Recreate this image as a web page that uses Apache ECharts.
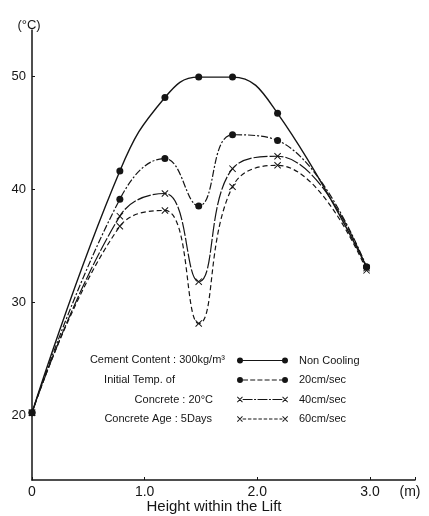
<!DOCTYPE html>
<html>
<head>
<meta charset="utf-8">
<script src="https://cdn.jsdelivr.net/npm/echarts@6/dist/echarts.min.js"></script>
<style>html,body{margin:0;padding:0;background:#fff}#c{width:429px;height:516px}</style>
</head>
<body>
<div id="c"></div>
<script>
// ---- data ----
var heights = [0, 0.78, 1.18, 1.48, 1.78, 2.18, 2.97];
var nonCooling = [20.2, 41.6, 48.1, 49.9, 49.9, 46.7, 33.1];
var cool20 = [20.2, 39.1, 42.7, 38.5, 44.8, 44.3, 33.1];
var cool40 = [20.2, 37.6, 39.6, 31.8, 41.8, 42.9, 33.0];
var cool60 = [20.2, 36.7, 38.1, 28.1, 40.2, 42.1, 32.8];
var seriesNames = ['Non Cooling', '20cm/sec', '40cm/sec', '60cm/sec'];
var yTicks = [20, 30, 40, 50];
var xTicks = [0, 1, 2, 3];
var xTitle = 'Height within the Lift';
var notes = ['Cement Content : 300kg/m³', 'Initial Temp. of', 'Concrete : 20°C', 'Concrete Age : 5Days'];

var INK = '#151515';
function pairs(vals) { return heights.map(function (h, i) { return [h, vals[i]]; }); }

// legend icon path helpers (box 51 x 6)
function circ(cx, cy, r) {
  return 'M' + (cx - r) + ',' + cy + ' A' + r + ',' + r + ' 0 1 1 ' + (cx + r) + ',' + cy +
    ' A' + r + ',' + r + ' 0 1 1 ' + (cx - r) + ',' + cy + ' Z ';
}
function rect(x1, x2, y, h) {
  return 'M' + x1 + ',' + (y - h / 2) + ' H' + x2 + ' V' + (y + h / 2) + ' H' + x1 + ' Z ';
}
function seg(x1, y1, x2, y2, w) {
  var dx = x2 - x1, dy = y2 - y1, L = Math.sqrt(dx * dx + dy * dy);
  var nx = -dy / L * w / 2, ny = dx / L * w / 2;
  return 'M' + (x1 + nx) + ',' + (y1 + ny) + ' L' + (x2 + nx) + ',' + (y2 + ny) +
    ' L' + (x2 - nx) + ',' + (y2 - ny) + ' L' + (x1 - nx) + ',' + (y1 - ny) + ' Z ';
}
function cross(cx) { return seg(cx - 2.6, 0.4, cx + 2.6, 5.6, 0.9) + seg(cx + 2.6, 0.4, cx - 2.6, 5.6, 0.9) + rect(cx-2.7,cx-2.69,0,0.01) + rect(cx-2.7,cx-2.69,6,0.01); }
function dashes(x1, x2, pattern) {
  var s = '', x = x1, i = 0;
  while (x < x2) {
    var len = pattern[i % pattern.length];
    var e = Math.min(x + len, x2);
    if (i % 2 === 0) s += rect(x, e, 3, 1);
    x += len; i++;
  }
  return s;
}
var icons = [
  'path://' + circ(3, 3, 3) + circ(48, 3, 3) + rect(5, 46, 3, 1.1),
  'path://' + circ(3, 3, 3) + circ(48, 3, 3) + dashes(6, 45, [5, 2.2]),
  'path://' + cross(2.7) + cross(48.3) + dashes(5.5, 45.5, [10, 1.5, 2, 1.5]),
  'path://' + cross(2.7) + cross(48.3) + dashes(5.5, 45.5, [3.5, 1.8])
];

var crossSym = 'path://M0,1 L1,0 L10,9 L9,10 Z M9,0 L10,1 L1,10 L0,9 Z';

function mk(name, vals, sym, size, dash, w) {
  return {
    name: name, type: 'line', data: pairs(vals), smooth: 0.45,
    symbol: sym, symbolSize: size, showSymbol: true,
    lineStyle: { color: INK, width: w, type: dash },
    itemStyle: { color: INK, borderWidth: 0 },
    emphasis: { disabled: true }, z: 3
  };
}

var chart = echarts.init(document.getElementById('c'), null, { renderer: 'canvas' });
var FONT = 'Liberation Sans, Arial, sans-serif';
var noteStyle = { fontFamily: FONT, fontSize: 11, fill: INK, textAlign: 'right', textVerticalAlign: 'middle' };
var noteRight = [225, 175, 213, 212];
var noteY = [360, 380, 399.5, 419];
var graphics = notes.map(function (t, i) {
  return { type: 'text', x: noteRight[i], y: noteY[i], style: Object.assign({ text: t }, noteStyle) };
});
graphics.push({ type: 'text', x: 214, y: 507, style: { text: xTitle, fontFamily: FONT, fontSize: 15, fill: INK, textAlign: 'center', textVerticalAlign: 'middle' } });

chart.setOption({
  animation: false,
  backgroundColor: '#fff',
  textStyle: { fontFamily: FONT, color: INK },
  grid: { left: 32, right: 14, top: 30, bottom: 36, containLabel: false, outerBoundsMode: 'none' },
  xAxis: {
    type: 'value', min: 0, max: 3.4, splitNumber: 3,
    axisLine: { show: true, lineStyle: { color: INK, width: 1.5 } },
    axisTick: { show: true, inside: true, length: 3, lineStyle: { color: INK } },
    splitLine: { show: false },
    axisLabel: {
      fontSize: 14, color: INK, margin: 5, showMaxLabel: true,
      rich: { m: { fontSize: 14, color: INK, padding: [0, 10, 0, 0] } },
      formatter: function (v) {
        if (Math.abs(v - 3.4) < 1e-6) return '{m|(m)}';
        if (xTicks.indexOf(Math.round(v)) >= 0 && Math.abs(v - Math.round(v)) < 1e-6) return v === 0 ? '0' : v.toFixed(1);
        return '';
      }
    }
  },
  yAxis: {
    type: 'value', min: 14.25, max: 54.07,
    name: '(°C)', nameLocation: 'end', nameGap: -2,
    nameTextStyle: { fontSize: 13, color: INK, align: 'center', padding: [0, 6, 0, 0] },
    axisLine: { show: true, lineStyle: { color: INK, width: 1.5 } },
    axisTick: { show: true, inside: true, length: 3, lineStyle: { color: INK } },
    splitLine: { show: false },
    axisLabel: {
      fontSize: 13, color: INK, margin: 6, showMinLabel: false, showMaxLabel: false,
      formatter: function (v) { return yTicks.indexOf(Math.round(v)) >= 0 && Math.abs(v - Math.round(v)) < 1e-6 ? String(v) : ''; }
    }
  },
  legend: {
    orient: 'vertical', left: 232, top: 349.5, itemWidth: 51, itemHeight: 6, itemGap: 7.5,
    selectedMode: false, symbolKeepAspect: false,
    itemStyle: { color: INK, borderWidth: 0 },
    textStyle: { fontSize: 11, color: INK, padding: [0, 0, 0, 6], lineHeight: 12 },
    data: seriesNames.map(function (n, i) { return { name: n, icon: icons[i] }; })
  },
  graphic: graphics,
  series: [
    mk(seriesNames[0], nonCooling, 'circle', 7, 'solid', 1.4),
    mk(seriesNames[1], cool20, 'circle', 7, [7, 2, 2, 2], 1.2),
    mk(seriesNames[2], cool40, crossSym, 7, [14, 2], 1.2),
    mk(seriesNames[3], cool60, crossSym, 7, [5, 3], 1.2)
  ]
});
</script>
</body>
</html>
